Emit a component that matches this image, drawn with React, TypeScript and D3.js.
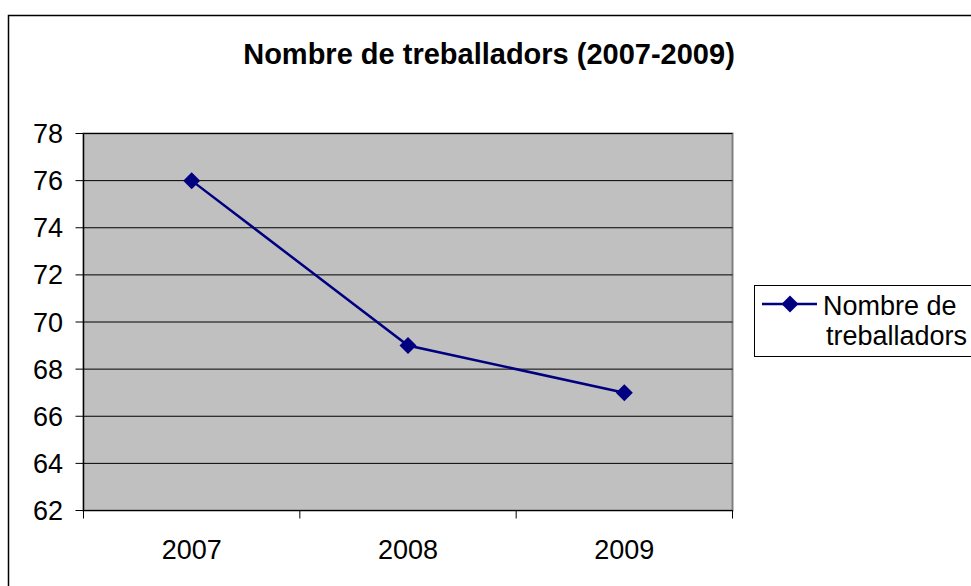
import React from "react";
import * as d3 from "d3";

const categories = ["2007", "2008", "2009"];
const seriesName = "Nombre de treballadors";
const values = [76, 69, 67];
const yTicks = [62, 64, 66, 68, 70, 72, 74, 76, 78];
const title = "Nombre de treballadors (2007-2009)";

export default function App() {
  const W = 971, H = 586;
  const left = 83.5, right = 732.5, top = 133.5, bottom = 510.5;
  const x = d3.scaleBand().domain(categories).range([left, right]);
  const y = d3.scaleLinear().domain([62, 78]).range([bottom, top]);
  const line = d3.line<number>()
    .x((_, i) => (x(categories[i]) as number) + x.bandwidth() / 2)
    .y((d) => y(d));
  const font = "'Liberation Sans', Arial, sans-serif";
  const diamond = (cx: number, cy: number, r: number) =>
    `M${cx},${cy - r}L${cx + r},${cy}L${cx},${cy + r}L${cx - r},${cy}Z`;
  const boundaries = [...categories.map((c) => x(c) as number), right];
  return (
    <svg width={W} height={H} style={{ position: "absolute", left: 0, top: 0 }} fontFamily={font}>
      <rect x={0} y={0} width={W} height={H} fill="#fff" />
      <rect x={8.5} y={15.5} width={1000} height={700} fill="#fff" stroke="#000" strokeWidth={1.5} />
      <text x={489} y={64} textAnchor="middle" fontSize={29} fontWeight="bold">{title}</text>
      <rect x={left} y={top} width={right - left} height={bottom - top} fill="#c0c0c0" stroke="#808080" strokeWidth={2} />
      {yTicks.map((t) => (
        <g key={t}>
          <line x1={left} x2={right} y1={y(t)} y2={y(t)} stroke="#000" strokeWidth={1} />
          <line x1={left - 8} x2={left} y1={y(t)} y2={y(t)} stroke="#000" strokeWidth={1} />
          <text x={63} y={y(t) + 9.5} textAnchor="end" fontSize={27}>{t}</text>
        </g>
      ))}
      <line x1={left} x2={left} y1={top} y2={bottom} stroke="#000" strokeWidth={1.2} />
      <line x1={left} x2={right} y1={bottom} y2={bottom} stroke="#000" strokeWidth={1.2} />
      {boundaries.map((b, i) => (
        <line key={i} x1={b} x2={b} y1={bottom} y2={bottom + 8} stroke="#000" strokeWidth={1} />
      ))}
      {categories.map((c) => (
        <text key={c} x={(x(c) as number) + x.bandwidth() / 2} y={559} textAnchor="middle" fontSize={27}>{c}</text>
      ))}
      <path d={line(values) || ""} fill="none" stroke="#000080" strokeWidth={2.5} />
      {values.map((v, i) => (
        <path key={i} d={diamond((x(categories[i]) as number) + x.bandwidth() / 2, y(v), 8.5)} fill="#000080" />
      ))}
      <rect x={754.5} y={285.5} width={300} height={71} fill="#fff" stroke="#000" strokeWidth={1} />
      <line x1={762} x2={817} y1={304} y2={304} stroke="#000080" strokeWidth={2.5} />
      <path d={diamond(790, 304, 8.5)} fill="#000080" />
      <text x={823} y={315} fontSize={27}>Nombre de</text>
      <text x={826} y={345} fontSize={27}>treballadors</text>
    </svg>
  );
}
